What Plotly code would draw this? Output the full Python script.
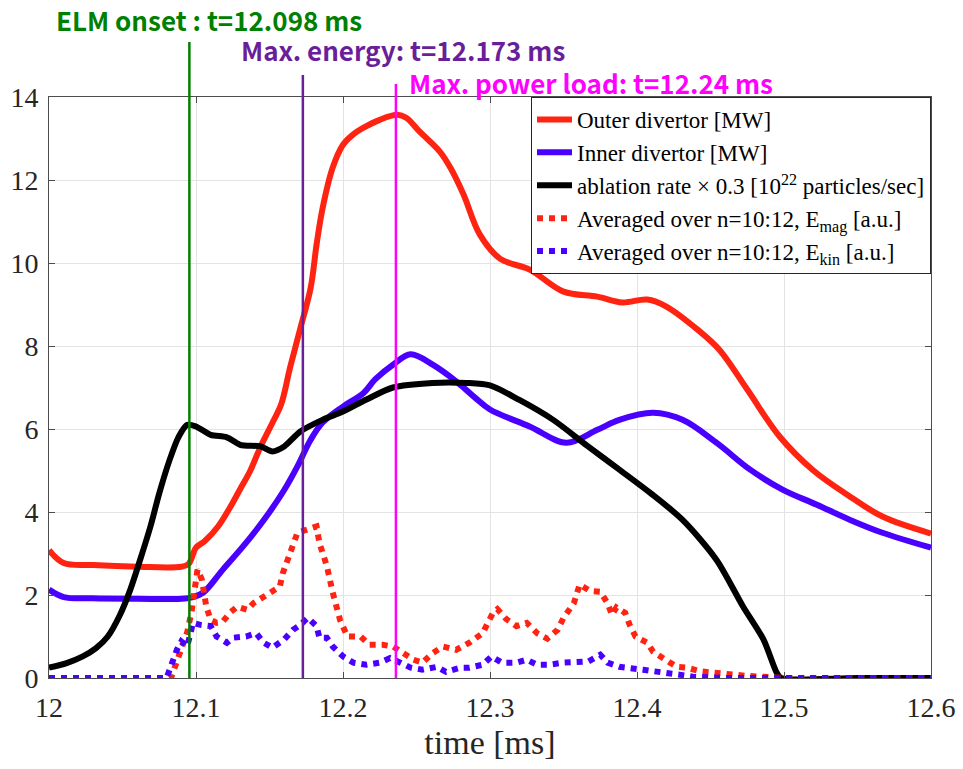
import plotly.graph_objects as go

# ---------------- data ----------------
t_outer = [12.0, 12.01, 12.03, 12.06, 12.09, 12.095, 12.1, 12.106, 12.115, 12.123, 12.13,
           12.137, 12.144, 12.152, 12.158, 12.164, 12.171, 12.178, 12.182, 12.186, 12.193,
           12.2, 12.207, 12.214, 12.225, 12.237, 12.243, 12.252, 12.266, 12.273, 12.282,
           12.293, 12.307, 12.327, 12.35, 12.373, 12.39, 12.407, 12.42, 12.441, 12.456,
           12.475, 12.497, 12.52, 12.545, 12.567, 12.6]
outer = [3.08, 2.77, 2.72, 2.68, 2.68, 2.75, 3.14, 3.3, 3.65, 4.1, 4.55,
         5.0, 5.58, 6.15, 6.6, 7.48, 8.43, 9.4, 10.44, 11.3, 12.3,
         12.85, 13.1, 13.26, 13.45, 13.57, 13.5, 13.17, 12.68, 12.3, 11.65,
         10.69, 10.1, 9.84, 9.31, 9.19, 9.05, 9.12, 8.95, 8.4, 7.91,
         6.95, 5.82, 5.0, 4.37, 3.89, 3.48]

t_inner = [12.0, 12.01, 12.03, 12.06, 12.09, 12.098, 12.105, 12.118, 12.132, 12.146, 12.16,
           12.169, 12.178, 12.186, 12.2, 12.214, 12.222, 12.234, 12.246, 12.261, 12.278,
           12.29, 12.3, 12.327, 12.352, 12.373, 12.388, 12.411, 12.431, 12.454, 12.477,
           12.499, 12.522, 12.545, 12.567, 12.6]
inner = [2.13, 1.95, 1.92, 1.91, 1.91, 1.95, 2.06, 2.6, 3.17, 3.8, 4.53,
         5.1, 5.74, 6.15, 6.54, 6.87, 7.2, 7.55, 7.8, 7.55, 7.12,
         6.75, 6.47, 6.06, 5.67, 5.98, 6.22, 6.39, 6.22, 5.67, 5.02,
         4.54, 4.18, 3.81, 3.5, 3.14]

t_abl = [12.0, 12.012, 12.023, 12.032, 12.04, 12.048, 12.055, 12.062, 12.069, 12.075,
         12.082, 12.088, 12.094, 12.1, 12.11, 12.121, 12.13, 12.144, 12.152, 12.16,
         12.171, 12.186, 12.2, 12.216, 12.234, 12.261, 12.284, 12.3, 12.32, 12.343,
         12.366, 12.388, 12.409, 12.431, 12.454, 12.472, 12.486, 12.495, 12.498, 12.55, 12.6]
abl = [0.25, 0.36, 0.52, 0.72, 1.0, 1.5, 2.1, 2.85, 3.65, 4.45,
       5.25, 5.8, 6.1, 6.06, 5.86, 5.8, 5.62, 5.58, 5.46, 5.58,
       5.94, 6.22, 6.42, 6.71, 7.0, 7.11, 7.11, 7.05, 6.7, 6.22,
       5.6, 5.02, 4.46, 3.81, 2.85, 1.73, 0.93, 0.13, 0.0, 0.0, 0.0]

t_mag = [12.0, 12.083, 12.088, 12.094, 12.097, 12.101, 12.104, 12.107, 12.11, 12.114,
         12.118, 12.123, 12.128, 12.135, 12.139, 12.146, 12.152, 12.157, 12.159, 12.164,
         12.169, 12.175, 12.182, 12.184, 12.189, 12.193, 12.198, 12.203, 12.212, 12.218,
         12.227, 12.234, 12.241, 12.248, 12.254, 12.261, 12.268, 12.277, 12.286, 12.295,
         12.302, 12.305, 12.311, 12.318, 12.325, 12.332, 12.339, 12.346, 12.35, 12.357,
         12.361, 12.368, 12.375, 12.38, 12.383, 12.386, 12.392, 12.395, 12.399, 12.407,
         12.411, 12.418, 12.427, 12.434, 12.443, 12.452, 12.475, 12.5, 12.6]
mag = [0, 0, 0.5, 1.1, 1.6, 2.61, 2.37, 1.72, 1.4, 1.33,
       1.35, 1.57, 1.72, 1.64, 1.8, 1.96, 2.06, 2.2, 2.52, 3.0,
       3.5, 3.57, 3.65, 3.25, 2.7, 2.06, 1.4, 1.0, 1.0, 0.8,
       0.8, 0.76, 0.6, 0.44, 0.37, 0.6, 0.76, 0.68, 0.85, 1.08,
       1.57, 1.66, 1.42, 1.25, 1.33, 1.08, 0.95, 1.16, 1.45, 1.8,
       2.25, 2.1, 2.08, 1.8, 1.52, 1.7, 1.57, 1.28, 1.0, 0.85,
       0.63, 0.48, 0.27, 0.25, 0.16, 0.13, 0.05, 0, 0]

t_kin = [12.0, 12.08, 12.087, 12.09, 12.094, 12.096, 12.098, 12.103, 12.11, 12.114,
         12.121, 12.125, 12.134, 12.141, 12.146, 12.152, 12.16, 12.166, 12.171, 12.176,
         12.182, 12.184, 12.189, 12.193, 12.2, 12.207, 12.216, 12.225, 12.232, 12.239,
         12.246, 12.254, 12.264, 12.27, 12.28, 12.286, 12.295, 12.301, 12.308, 12.318,
         12.325, 12.332, 12.34, 12.35, 12.359, 12.367, 12.375, 12.38, 12.388, 12.396,
         12.404, 12.412, 12.421, 12.429, 12.438, 12.46, 12.6]
kin = [0, 0, 0.68, 0.88, 0.76, 1.0, 1.33, 1.28, 1.25, 1.0,
       0.85, 0.97, 1.0, 1.08, 0.85, 0.73, 0.93, 1.16, 1.28, 1.45,
       1.25, 0.97, 0.97, 0.76, 0.52, 0.37, 0.32, 0.37, 0.48, 0.37,
       0.25, 0.2, 0.27, 0.15, 0.25, 0.25, 0.32, 0.52, 0.37, 0.37,
       0.44, 0.32, 0.32, 0.37, 0.4, 0.4, 0.56, 0.37, 0.27, 0.25,
       0.2, 0.16, 0.13, 0.08, 0.03, 0, 0]

event_times = [12.0955, 12.1727, 12.236]
event_labels = ["ELM onset : t=12.098 ms", "Max. energy: t=12.173 ms", "Max. power load: t=12.24 ms"]

x_ticks = [12, 12.1, 12.2, 12.3, 12.4, 12.5, 12.6]
x_ticklabels = ["12", "12.1", "12.2", "12.3", "12.4", "12.5", "12.6"]
y_ticks = [0, 2, 4, 6, 8, 10, 12, 14]

# ---------------- styling ----------------
RED = "#FF2412"
BLUE = "#4A00FF"
SERIF = "Liberation Serif"
GOTHIC = "Noto Sans CJK JP"

fig = go.Figure()
fig.add_trace(go.Scatter(x=t_outer, y=outer, mode="lines", name="Outer divertor [MW]",
                         line=dict(color=RED, width=6, shape="spline", smoothing=1.0)))
fig.add_trace(go.Scatter(x=t_inner, y=inner, mode="lines", name="Inner divertor [MW]",
                         line=dict(color=BLUE, width=6, shape="spline", smoothing=1.0)))
fig.add_trace(go.Scatter(x=t_abl, y=abl, mode="lines",
                         name="ablation rate × 0.3 [10<sup>22</sup> particles/sec]",
                         line=dict(color="black", width=6, shape="spline", smoothing=0.8)))
fig.add_trace(go.Scatter(x=t_mag, y=mag, mode="lines",
                         name="Averaged over n=10:12, E<sub>mag</sub> [a.u.]",
                         line=dict(color=RED, width=6, dash="6px,6px")))
fig.add_trace(go.Scatter(x=t_kin, y=kin, mode="lines",
                         name="Averaged over n=10:12, E<sub>kin</sub> [a.u.]",
                         line=dict(color=BLUE, width=6, dash="6px,6px")))

line_colors = ["#008000", "#6A1F9A", "#FF00FF"]
text_colors = ["#008000", "#6A1F9A", "#FF00FF"]
line_tops = [1.0947, 1.0379, 1.0224]
label_x = [0.0068, 0.2166, 0.407]
label_y = [1.133, 1.081, 1.0258]
for i in range(3):
    fig.add_shape(type="line", xref="x", yref="paper", x0=event_times[i], x1=event_times[i],
                  y0=0, y1=line_tops[i], line=dict(color=line_colors[i], width=2.5))
    fig.add_annotation(xref="paper", yref="paper", x=label_x[i], y=label_y[i],
                       xanchor="left", yanchor="middle", showarrow=False, borderpad=0,
                       text="<b>" + event_labels[i] + "</b>",
                       font=dict(family=GOTHIC, size=26, color=text_colors[i]))

axis_common = dict(showline=True, linecolor="#4d4d4d", linewidth=1, mirror="ticks",
                   ticks="inside", ticklen=6, tickcolor="#4d4d4d",
                   showgrid=True, gridcolor="#e3e3e3", gridwidth=1, zeroline=False,
                   tickfont=dict(family=SERIF, size=28, color="#262626"))

fig.update_xaxes(range=[12, 12.6], tickvals=x_ticks, ticktext=x_ticklabels,
                 ticklabelstandoff=4,
                 title=dict(text="time [ms]", font=dict(family=SERIF, size=34, color="#262626"),
                            standoff=8),
                 **axis_common)
fig.update_yaxes(range=[0, 14], tickvals=y_ticks, ticklabelstandoff=4, **axis_common)

fig.update_layout(
    width=963, height=769,
    margin=dict(l=49, r=32, t=97, b=91, autoexpand=False),
    plot_bgcolor="white", paper_bgcolor="white",
    showlegend=True,
    legend=dict(x=1, y=1, xanchor="right", yanchor="top",
                bgcolor="white", bordercolor="#262626", borderwidth=1,
                font=dict(family=SERIF, size=23, color="black"),
                itemwidth=35, tracegroupgap=0),
)

fig.write_html("out.html")
